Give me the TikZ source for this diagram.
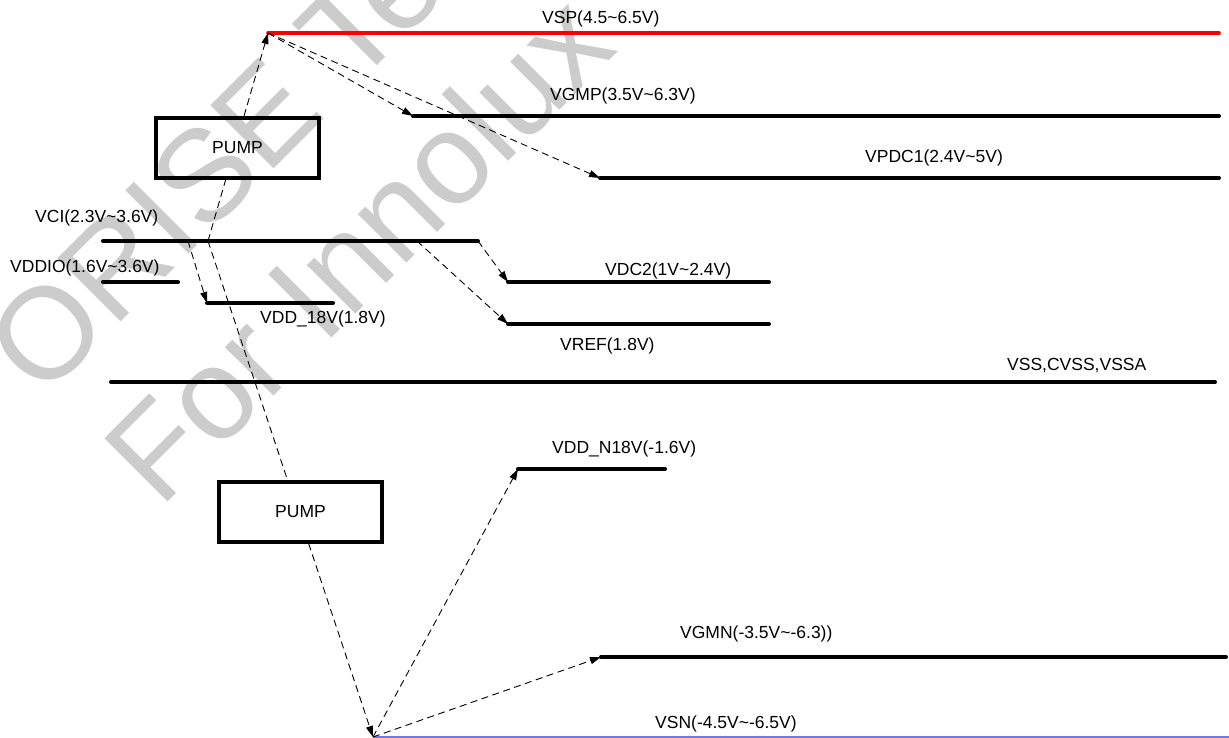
\documentclass[tikz,border=0pt]{standalone}
\usepackage{fontspec}
\setmainfont{Liberation Sans}
\usetikzlibrary{arrows.meta,calc}
\definecolor{vsnblue}{RGB}{118,118,232}
\definecolor{wmgray}{RGB}{204,204,204}
\begin{document}
\begin{tikzpicture}[x=1pt,y=-1pt,
  rail/.style={line width=4pt,line cap=round},
  feed/.style={line width=0.9pt,dash pattern=on 7pt off 4.5pt,-{Triangle[length=11pt,width=7pt]}},
  plainfeed/.style={line width=0.9pt,dash pattern=on 7pt off 4.5pt},
  lbl/.style={font=\fontsize{17.5}{20}\selectfont,inner sep=0pt,anchor=base west},
  pumpbox/.style={draw,line width=4pt,minimum width=163pt,minimum height=60pt,inner sep=0pt,font=\fontsize{17.5}{20}\selectfont},
  wm/.style={text=wmgray,font=\fontsize{130}{130}\selectfont,rotate=45,anchor=base west,inner sep=0pt}]
\useasboundingbox (0,0) rectangle (1229,738);
% watermark
\node[wm] (wm1) at (42,401) {ORISE Tech};
\node[wm] (wm2) at (160,510) {For Innolux};
% rail end points
\coordinate (vspL) at (268,33);   \coordinate (vspR) at (1219,33);
\coordinate (vgmpL) at (413,116); \coordinate (vgmpR) at (1219,116);
\coordinate (vpdcL) at (600,178); \coordinate (vpdcR) at (1219,178);
\coordinate (vciL) at (103,241);  \coordinate (vciR) at (478,241);
\coordinate (vddioL) at (103,282);\coordinate (vddioR) at (178,282);
\coordinate (vddL) at (207,303);  \coordinate (vddR) at (333,303);
\coordinate (vdcL) at (508,282);  \coordinate (vdcR) at (769,282);
\coordinate (vrefL) at (508,324); \coordinate (vrefR) at (769,324);
\coordinate (vssL) at (111,382);  \coordinate (vssR) at (1215,382);
\coordinate (vdnL) at (518,469);  \coordinate (vdnR) at (665,469);
\coordinate (vgmnL) at (601,657); \coordinate (vgmnR) at (1226,657);
\coordinate (vsnL) at (373,737);  \coordinate (vsnR) at (1229,737);
% taps on VCI
\coordinate (tapA) at (208,241);
\coordinate (tapB) at (188,241);
\coordinate (tapC) at (417,241);
% rails
\draw[rail,red,line width=3.6pt] (vspL) -- (vspR);
\draw[rail] (vgmpL) -- (vgmpR);
\draw[rail] (vpdcL) -- (vpdcR);
\draw[rail] (vciL) -- (vciR);
\draw[rail] (vddioL) -- (vddioR);
\draw[rail] (vddL) -- (vddR);
\draw[rail] (vdcL) -- (vdcR);
\draw[rail] (vrefL) -- (vrefR);
\draw[rail] (vssL) -- (vssR);
\draw[rail] (vdnL) -- (vdnR);
\draw[rail] (vgmnL) -- (vgmnR);
\draw[vsnblue,line width=1.5pt] (vsnL) -- (vsnR);
% pumps
\node[pumpbox] (pumpU) at (237.5,148) {PUMP};
\node[pumpbox] (pumpL) at (300.5,511.5) {PUMP};
% labels
\node[lbl] (tVSP) at (542,23.3) {VSP(4.5\textasciitilde 6.5V)};
\node[lbl] (tVGMP) at (550,100.5) {VGMP(3.5V\textasciitilde 6.3V)};
\node[lbl] (tVPDC) at (865,163) {VPDC1(2.4V\textasciitilde 5V)};
\node[lbl] (tVCI) at (35,222.5) {VCI(2.3V\textasciitilde 3.6V)};
\node[lbl] (tVDDIO) at (10,272.5) {VDDIO(1.6V\textasciitilde 3.6V)};
\node[lbl] (tVDD) at (260,323) {VDD\_18V(1.8V)};
\node[lbl] (tVDC) at (605,275) {VDC2(1V\textasciitilde 2.4V)};
\node[lbl] (tVREF) at (560,350) {VREF(1.8V)};
\node[lbl] (tVSS) at (1007,370) {VSS,CVSS,VSSA};
\node[lbl] (tVDN) at (552,453) {VDD\_N18V(-1.6V)};
\node[lbl] (tVGMN) at (680,638) {VGMN(-3.5V\textasciitilde -6.3))};
\node[lbl] (tVSN) at (655,728) {VSN(-4.5V\textasciitilde -6.5V)};
% crossings with pump boxes
\coordinate (uBot) at (intersection of tapA--vspL and pumpU.south west--pumpU.south east);
\coordinate (uTop) at (intersection of tapA--vspL and pumpU.north west--pumpU.north east);
\coordinate (lTop) at (intersection of tapA--vsnL and pumpL.north west--pumpL.north east);
\coordinate (lBot) at (intersection of tapA--vsnL and pumpL.south west--pumpL.south east);
% feeds
\draw[plainfeed] (tapA) -- (uBot);
\draw[feed] (uTop) -- (vspL);
\draw[plainfeed] (tapA) -- (lTop);
\draw[feed] (lBot) -- (vsnL);
\draw[feed] (vspL) -- (vgmpL);
\draw[feed] (vspL) -- (vpdcL);
\draw[feed] (tapB) -- (vddL);
\draw[feed] (vciR) -- (vdcL);
\draw[feed] (tapC) -- (vrefL);
\draw[feed] (vsnL) -- (vdnL);
\draw[feed] (vsnL) -- (vgmnL);
\end{tikzpicture}
\end{document}
